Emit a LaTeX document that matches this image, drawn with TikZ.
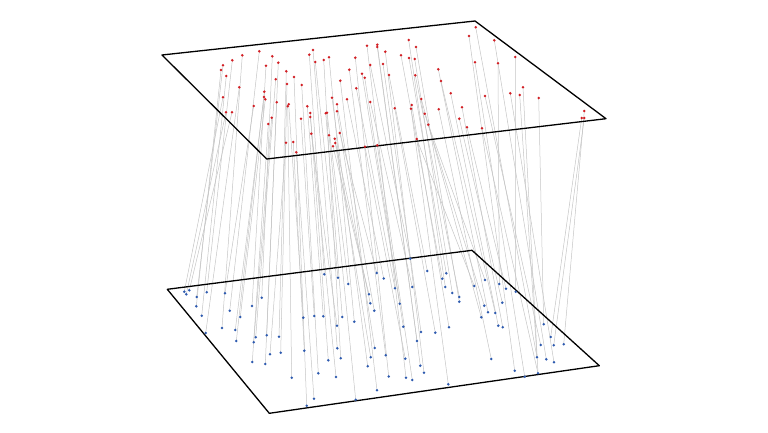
\documentclass[tikz,border=0pt]{standalone}
\begin{document}
\begin{tikzpicture}[x=1pt,y=-1pt,
  link/.style={draw={rgb,255:red,196;green,196;blue,196},line width=0.5pt},
  plane/.style={draw=black,line width=1.3pt,line join=round},
  reddot/.style={fill={rgb,255:red,210;green,30;blue,35}},
  bluedot/.style={fill={rgb,255:red,45;green,90;blue,175}}]
\useasboundingbox (0,0) rectangle (768,433);
% plane corners
\coordinate (tp1) at (162,55);
\coordinate (tp2) at (475,21);
\coordinate (tp3) at (606,118.7);
\coordinate (tp4) at (266.7,159);
\coordinate (bp1) at (167.3,289.3);
\coordinate (bp2) at (472,250.3);
\coordinate (bp3) at (599.3,365.7);
\coordinate (bp4) at (269.3,413.3);
% red points (top plane)
\foreach \n/\x/\y in {1/259.3/51.3,2/313/50,3/309.3/54.7,4/242.3/55.3,5/272.3/56.3,6/232.3/60.3,7/323.7/60,8/329/57.3,9/315.3/62,10/278.3/62.7,
11/223/65.3,12/266/65.7,13/221/70,14/286.3/71.3,15/294/77,16/226.3/76,17/275.7/79.3,18/287/84,19/301.7/85,20/239.3/87.3,
21/264.3/91.7,22/223/97.3,23/264/97,24/265.3/99.3,25/276.7/102.3,26/253.7/106,27/288.7/104.3,28/287.7/106.3,29/307.3/106.3,30/226/112.3,
31/232/112.3,32/310.3/113,33/327/112.7,34/325.7/113.3,35/310.3/117,36/271.7/117.7,37/301/118.7,38/268.3/124,39/311.3/133.7,40/329/135.3,
41/339.7/133,42/334.7/138.7,43/335.3/143,44/333/146.3,45/286/142.7,46/293.3/142,47/296.3/152.3,48/365/146.7,49/377.3/145.3,50/367/45.7,
51/377.3/44.7,52/377.3/47,53/385.3/51.7,54/355.3/57.7,55/370.3/65,56/383/64,57/349.3/69.7,58/362/73.7,59/364.7/77.7,60/389/75,
61/340.3/80.7,62/356.3/88.3,63/332/97.7,64/347/99.3,65/370.3/102,66/337/104.3,67/337/111.3,68/475.7/27.3,69/469/36,70/494.3/40.3,
71/408.7/40,72/416/47,73/401/55.3,74/409/58,75/414.7/59,76/515.3/57,77/475/62.3,78/498/63.3,79/438.3/69.3,80/415.3/75.3,
81/441/81,82/523/87.3,83/450.7/93.3,84/510.3/93.3,85/519.7/95,86/485/96,87/538.7/98,88/421.3/99,89/411.7/105,90/394.7/108.3,
91/411/108.7,92/438.7/109.3,93/462/107.3,94/424.7/113.7,95/459.3/118.7,96/428.3/124.7,97/467/127.3,98/482/128.3,99/416.7/139,100/584.3/111,
101/581.7/118,102/584.3/118}
  \coordinate (r\n) at (\x,\y);
% blue points (bottom plane)
\foreach \n/\x/\y in {1/324.3/274.3,2/338/277.7,3/348.3/284,4/376.7/273,5/383.7/278.5,6/184.3/291.7,7/186.3/294.3,8/189.3/290.3,9/206.7/292.3,10/225/293.3,
11/196.7/297,12/261.7/297.7,13/369/294.3,14/370.3/303.3,15/196.3/306.3,16/252/306,17/374.3/310.7,18/229.7/310.7,19/201.7/315.7,20/240.3/317,
21/303.3/317.7,22/314.3/316,23/323.3/316.3,24/342.3/317,25/354.3/321.7,26/337/325.7,27/222/328,28/235.3/330,29/205.7/333,30/266.7/335.3,
31/279/336.7,32/255.7/337.3,33/236.3/341,34/253.7/342.3,35/337.3/348.3,36/374.7/348,37/304.3/350.7,38/280.7/352.7,39/270/354.3,40/385.7/355.2,
41/340.7/358.3,42/370.7/357.3,43/328.3/360.3,44/252.3/362,45/265.3/364,46/367.7/366.3,47/318.3/373.3,48/291.7/377.7,49/336/377,50/388.7/376.5,
51/377/390.3,52/314/398.7,53/355.7/399.7,54/306.7/405.7,55/410.3/258.7,56/427.3/271,57/446.3/273.3,58/442.3/278.7,59/485/280,60/395/288.3,
61/412.3/287,62/445.3/287,63/474.3/286,64/499.3/284,65/506/288.7,66/515.7/291.7,67/452.3/293,68/459.3/297,69/459.3/301.7,70/399.7/303.7,
71/484.3/305.7,72/502.3/302.7,73/488/312.3,74/495.3/313,75/481.3/317.3,76/498.3/325.7,77/502.7/327.3,78/543.7/324.3,79/403.3/326.7,80/449/327.3,
81/421/332,82/435.3/332.7,83/417/341,84/550.7/337,85/540.7/345,86/553.7/345.3,87/563.7/344.3,88/405.3/358.7,89/491.3/359,90/537/357.3,
91/546.3/359.3,92/554/362.3,93/420.3/365.7,94/424/372.7,95/514.7/370.7,96/524.7/376.7,97/538/373.3,98/406/377.7,99/412.3/380,100/448.3/384.3}
  \coordinate (b\n) at (\x,\y);
% correspondences
\foreach \a/\b in {22/6,30/7,31/8,13/15,11/11,16/19,6/9,20/29,4/27,
26/10,1/18,23/28,21/33,24/20,12/16,38/44,36/34,5/12,17/32,25/45,10/30,
45/39,14/31,18/38,28/48,27/21,46/37,15/54,47/52,37/22,19/47,29/23,3/1,32/43,35/49,39/26,2/35,9/2,
7/41,34/24,33/3,8/25,40/53,63/46,44/13,42/14,43/42,66/17,67/36,41/4,61/51,64/5,57/40,
54/50,62/60,58/70,59/79,48/88,50/98,55/55,65/61,49/99,51/83,52/93,56/81,53/94,60/56,90/82,73/58,71/62,74/57,91/100,89/80,75/67,80/68,72/69,
99/63,88/75,94/71,96/59,79/73,92/89,81/74,83/76,95/72,93/77,97/65,69/95,77/96,68/90,98/97,86/85,70/91,84/92,85/90,82/97,
76/66,78/64,87/78,100/87,101/84,102/86}
  \draw[link] (r\a) -- (b\b);
% planes
\draw[plane] (tp1) -- (tp2) -- (tp3) -- (tp4) -- cycle;
\draw[plane] (bp1) -- (bp2) -- (bp3) -- (bp4) -- cycle;
% dots
\foreach \n in {1,...,102} \fill[reddot] (r\n) circle (1.4);
\foreach \n in {1,...,100} \fill[bluedot] (b\n) circle (1.4);
\end{tikzpicture}
\end{document}
